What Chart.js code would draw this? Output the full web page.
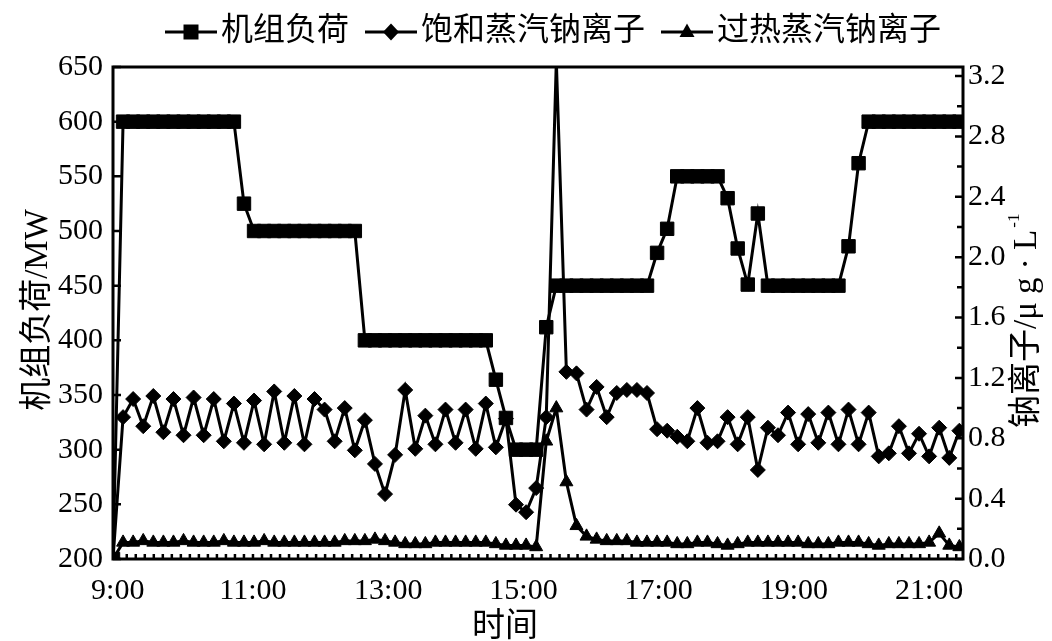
<!DOCTYPE html>
<html>
<head>
<meta charset="utf-8">
<script src="https://cdn.jsdelivr.net/npm/chart.js@4.4.0/dist/chart.umd.min.js"></script>
<style>
    html, body { margin: 0; padding: 0; background: #fff; }
    #wrap { width: 1052px; height: 641px; }
</style>
</head>
<body>
<div id="wrap"><canvas id="chart" width="1052" height="641"></canvas></div>
<script>
// Sampling: first sample a little before 9:00, then about every 9 minutes (minutes after 9:00)
const firstMin = -4.2;
const stepMin = 8.94;
const xMin = -4.2;
const xMax = 750;

// Unit load, MW
const loadMW = [
    200, 600, 600, 600, 600, 600, 600, 600, 600, 600,
    600, 600, 600, 525, 500, 500, 500, 500, 500, 500,
    500, 500, 500, 500, 500, 400, 400, 400, 400, 400,
    400, 400, 400, 400, 400, 400, 400, 400, 364, 329,
    300, 300, 300, 412, 450, 450, 450, 450, 450, 450,
    450, 450, 450, 450, 480, 502, 550, 550, 550, 550,
    550, 530, 484, 451, 516, 450, 450, 450, 450, 450,
    450, 450, 450, 486, 562, 600, 600, 600, 600, 600,
    600, 600, 600, 600, 600
];

// Saturated steam sodium, ug/L
const satNa = [
    0, 0.94, 1.06, 0.88, 1.08, 0.84, 1.06, 0.82, 1.07, 0.82,
    1.06, 0.78, 1.03, 0.77, 1.05, 0.76, 1.11, 0.77, 1.08, 0.76,
    1.06, 0.99, 0.78, 1.00, 0.72, 0.92, 0.63, 0.43, 0.69, 1.12,
    0.73, 0.95, 0.76, 0.99, 0.77, 0.99, 0.73, 1.03, 0.74, 0.93,
    0.36, 0.31, 0.47, 0.94, 3.30, 1.24, 1.23, 0.99, 1.14, 0.94,
    1.10, 1.12, 1.12, 1.10, 0.86, 0.85, 0.81, 0.78, 1.00, 0.77,
    0.78, 0.94, 0.76, 0.94, 0.59, 0.87, 0.82, 0.97, 0.76, 0.96,
    0.77, 0.97, 0.76, 0.99, 0.76, 0.97, 0.68, 0.70, 0.88, 0.70,
    0.83, 0.68, 0.87, 0.67, 0.85
];

// Superheated steam sodium, ug/L
const supNa = [
    0, 0.11, 0.11, 0.12, 0.11, 0.11, 0.11, 0.12, 0.11, 0.11,
    0.11, 0.12, 0.11, 0.11, 0.11, 0.12, 0.11, 0.11, 0.11, 0.11,
    0.11, 0.11, 0.11, 0.12, 0.12, 0.12, 0.13, 0.12, 0.11, 0.10,
    0.10, 0.10, 0.11, 0.11, 0.11, 0.11, 0.11, 0.11, 0.10, 0.09,
    0.09, 0.09, 0.08, 0.78, 1.00, 0.51, 0.22, 0.15, 0.13, 0.12,
    0.12, 0.12, 0.11, 0.11, 0.11, 0.11, 0.10, 0.10, 0.11, 0.11,
    0.10, 0.09, 0.10, 0.11, 0.11, 0.11, 0.11, 0.11, 0.11, 0.10,
    0.10, 0.10, 0.11, 0.11, 0.11, 0.10, 0.09, 0.10, 0.10, 0.10,
    0.10, 0.11, 0.17, 0.09, 0.08
];

const seriesNames = ['机组负荷', '饱和蒸汽钠离子', '过热蒸汽钠离子'];

// Axis ticks
const xTickValues = [0, 120, 240, 360, 480, 600, 720];
const xTickLabels = ['9:00', '11:00', '13:00', '15:00', '17:00', '19:00', '21:00'];
const xMinorStep = 8;
const loadTicks = [200, 250, 300, 350, 400, 450, 500, 550, 600, 650];
const naTicks = [0, 0.4, 0.8, 1.2, 1.6, 2.0, 2.4, 2.8, 3.2];
const naMinorTicks = [0.2, 0.6, 1.0, 1.4, 1.8, 2.2, 2.6, 3.0];

const times = loadMW.map((_, i) => firstMin + i * stepMin);

const FONT = '"Liberation Serif", "Noto Sans CJK SC", serif';

// Legend sample: short line with the marker in the middle
function legendIcon(style) {
    const c = document.createElement('canvas');
    c.width = 66;
    c.height = 26;
    const g = c.getContext('2d');
    g.strokeStyle = '#000';
    g.fillStyle = '#000';
    g.lineWidth = 3;
    g.beginPath();
    g.moveTo(13, 13);
    g.lineTo(65, 13);
    g.stroke();
    const cx = 39, cy = 13;
    g.beginPath();
    if (style === 'rect') {
        g.rect(cx - 7.5, cy - 7.5, 15, 15);
    } else if (style === 'rectRot') {
        g.moveTo(cx, cy - 8.5);
        g.lineTo(cx + 8, cy);
        g.lineTo(cx, cy + 8.5);
        g.lineTo(cx - 8, cy);
        g.closePath();
    } else {
        g.moveTo(cx, cy - 8.5);
        g.lineTo(cx + 7.5, cy + 5);
        g.lineTo(cx - 7.5, cy + 5);
        g.closePath();
    }
    g.fill();
    return c;
}

const legendIcons = [legendIcon('rect'), legendIcon('rectRot'), legendIcon('triangle')];

// Inward ticks, plot frame and axis titles
const frameAndTitles = {
    id: 'frameAndTitles',
    afterDraw(chart) {
        const {ctx, chartArea: a, scales} = chart;
        ctx.save();
        ctx.strokeStyle = '#000';
        ctx.fillStyle = '#000';

        ctx.lineWidth = 2.5;
        ctx.beginPath();
        loadTicks.forEach(v => {
            const y = scales.y.getPixelForValue(v);
            ctx.moveTo(a.left, y);
            ctx.lineTo(a.left + 8, y);
        });
        naTicks.forEach(v => {
            const y = scales.y1.getPixelForValue(v);
            ctx.moveTo(a.right, y);
            ctx.lineTo(a.right - 8, y);
        });
        naMinorTicks.forEach(v => {
            const y = scales.y1.getPixelForValue(v);
            ctx.moveTo(a.right, y);
            ctx.lineTo(a.right - 6, y);
        });
        ctx.stroke();

        ctx.lineWidth = 2.5;
        ctx.beginPath();
        for (let m = 0; m <= xMax; m += xMinorStep) {
            const x = scales.x.getPixelForValue(m);
            ctx.moveTo(x, a.bottom);
            ctx.lineTo(x, a.bottom - 5);
        }
        ctx.stroke();

        ctx.lineWidth = 3;
        ctx.strokeRect(a.left, a.top, a.right - a.left, a.bottom - a.top);

        // left title
        ctx.font = '33px ' + FONT;
        ctx.textAlign = 'center';
        ctx.textBaseline = 'middle';
        ctx.save();
        ctx.translate(38, 310);
        ctx.rotate(-Math.PI / 2);
        ctx.fillText('机组负荷/MW', 0, 0);
        ctx.restore();

        // right title, reads bottom to top
        ctx.save();
        ctx.translate(1027, 428);
        ctx.rotate(-Math.PI / 2);
        ctx.textAlign = 'left';
        const main = '钠离子/μ g · L';
        ctx.fillText(main, 0, 0);
        const w = ctx.measureText(main).width;
        ctx.font = '17px ' + FONT;
        ctx.fillText('-1', w + 2, -12);
        ctx.restore();

        // x title
        ctx.font = '33px ' + FONT;
        ctx.fillText('时间', 505, 627);

        ctx.restore();
    }
};

function makePoints(values) {
    return values.map((v, i) => ({x: times[i], y: v}));
}

const ctx = document.getElementById('chart').getContext('2d');
const chart = new Chart(ctx, {
    type: 'line',
    data: {
        datasets: [{
            label: seriesNames[0],
            data: makePoints(loadMW),
            xAxisID: 'x',
            yAxisID: 'y',
            borderColor: '#000',
            backgroundColor: '#000',
            borderWidth: 3,
            pointStyle: 'rect',
            pointRadius: 9.5,
            pointBorderWidth: 1
        }, {
            label: seriesNames[1],
            data: makePoints(satNa),
            xAxisID: 'x',
            yAxisID: 'y1',
            borderColor: '#000',
            backgroundColor: '#000',
            borderWidth: 3,
            pointStyle: 'rectRot',
            pointRadius: 7.5,
            pointBorderWidth: 1
        }, {
            label: seriesNames[2],
            data: makePoints(supNa),
            xAxisID: 'x',
            yAxisID: 'y1',
            borderColor: '#000',
            backgroundColor: '#000',
            borderWidth: 3,
            pointStyle: 'triangle',
            pointRadius: 7.5,
            pointBorderWidth: 1
        }]
    },
    options: {
        responsive: false,
        animation: false,
        devicePixelRatio: 1,
        layout: {
            padding: {left: 54, right: 0, top: 0, bottom: 0}
        },
        plugins: {
            tooltip: {enabled: false},
            legend: {
                display: true,
                position: 'top',
                labels: {
                    usePointStyle: true,
                    pointStyleWidth: 40,
                    padding: 16,
                    color: '#000',
                    font: {family: FONT, size: 32},
                    generateLabels: (c) => Chart.defaults.plugins.legend.labels.generateLabels(c)
                        .map((item, i) => Object.assign(item, {pointStyle: legendIcons[i]}))
                }
            }
        },
        scales: {
            x: {
                type: 'linear',
                position: 'bottom',
                min: xMin,
                max: xMax,
                grid: {display: false, drawTicks: false},
                border: {display: false},
                ticks: {
                    color: '#000',
                    font: {family: FONT, size: 30},
                    padding: 14,
                    autoSkip: false,
                    maxRotation: 0,
                    callback: v => {
                        const k = xTickValues.indexOf(v);
                        return k >= 0 ? xTickLabels[k] : '';
                    }
                },
                afterBuildTicks: s => { s.ticks = xTickValues.map(v => ({value: v})); },
                afterFit: s => { s.height = 82; }
            },
            xTop: {
                type: 'linear',
                position: 'top',
                display: true,
                grid: {display: false, drawTicks: false},
                border: {display: false},
                ticks: {display: false},
                afterFit: s => { s.height = 9; }
            },
            y: {
                type: 'linear',
                position: 'left',
                min: 200,
                max: 650,
                grid: {display: false, drawTicks: false},
                border: {display: false},
                ticks: {
                    color: '#000',
                    font: {family: FONT, size: 30},
                    padding: 10,
                    autoSkip: false
                },
                afterBuildTicks: s => { s.ticks = loadTicks.map(v => ({value: v})); },
                afterFit: s => { s.width = 59; }
            },
            y1: {
                type: 'linear',
                position: 'right',
                min: 0,
                max: 3.26,
                grid: {display: false, drawTicks: false},
                border: {display: false},
                ticks: {
                    color: '#000',
                    font: {family: FONT, size: 30},
                    padding: 5,
                    autoSkip: false,
                    callback: v => v.toFixed(1)
                },
                afterBuildTicks: s => { s.ticks = naTicks.map(v => ({value: v})); },
                afterFit: s => { s.width = 89; }
            }
        }
    },
    plugins: [frameAndTitles]
});
</script>
</body>
</html>
